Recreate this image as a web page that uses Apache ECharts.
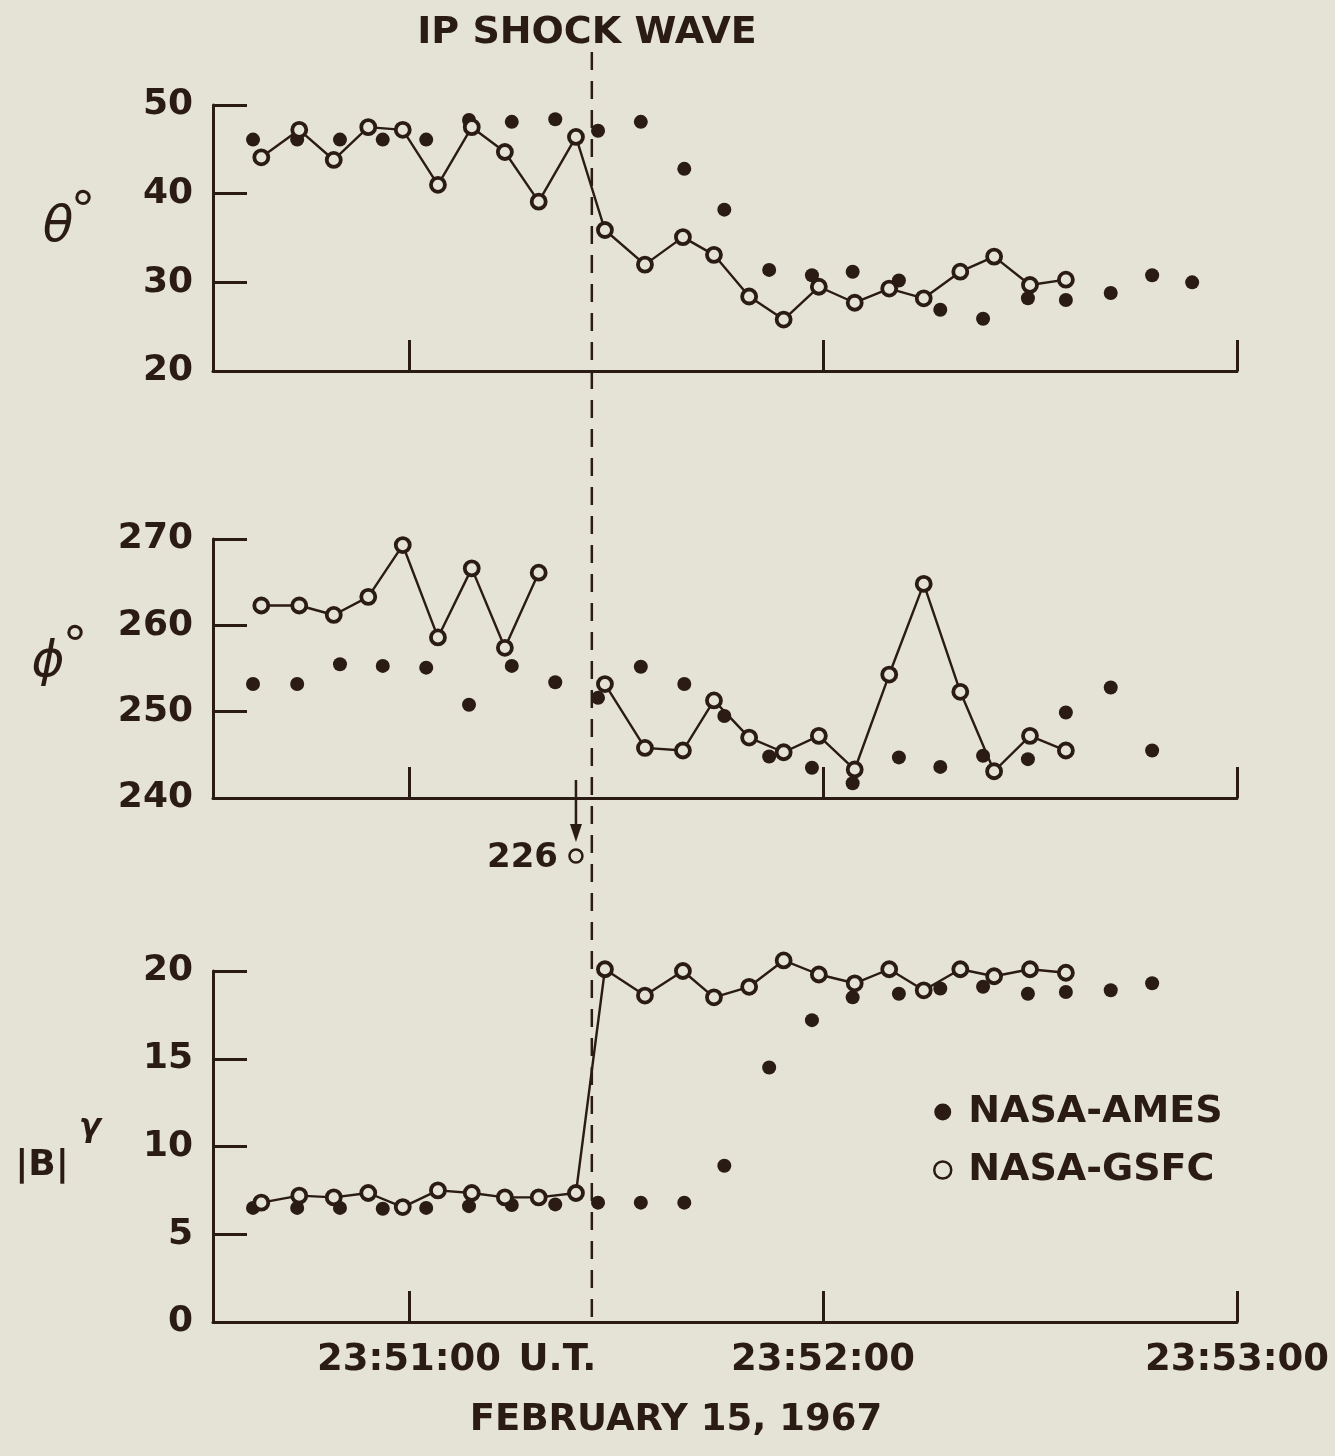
<!DOCTYPE html>
<html>
<head>
<meta charset="utf-8">
<script src="https://cdn.jsdelivr.net/npm/echarts@6/dist/echarts.min.js"></script>
<style>
html,body{margin:0;padding:0;background:#e5e3d5;}
#chart{width:1335px;height:1456px;}
</style>
</head>
<body>
<div id="chart"></div>
<script>
// ---- Data (time in seconds relative to 23:51:00 U.T.) ----
const timeGsfc = [-21.4,-15.9,-10.9,-5.9,-0.9,4.2,9.1,13.9,18.8,24.2,28.4,34.2,39.7,44.2,49.3,54.3,59.4,64.6,69.6,74.6,79.9,84.8,90.0,95.2];
const timeAmes = [-22.6,-16.2,-10.0,-3.8,2.5,8.7,14.9,21.2,27.4,33.6,39.9,45.7,52.2,58.4,64.3,71.0,77.0,83.2,89.7,95.2,101.7,107.7,113.5];

const thetaAmes = [46.1,46.1,46.1,46.1,46.1,48.3,48.1,48.4,47.1,48.1,42.8,38.2,31.4,30.8,31.2,30.2,26.9,25.9,28.2,28.0,28.8,30.8,30.0];
const thetaGsfc = [44.1,47.2,43.8,47.5,47.2,41.0,47.5,44.7,39.1,46.4,35.9,32.0,35.1,33.1,28.4,25.8,29.5,27.7,29.3,28.2,31.2,32.9,29.7,30.3];

const phiAmes = [253.2,253.2,255.5,255.3,255.1,250.8,255.3,253.4,251.6,255.2,253.2,249.5,244.8,243.5,241.7,244.7,243.6,244.9,244.5,249.9,252.8,245.5];
const phiGsfc = [262.3,262.3,261.2,263.3,269.3,258.6,266.6,257.4,266.1,226,253.2,245.8,245.5,251.3,247.0,245.3,247.2,243.3,254.3,264.8,252.3,243.1,247.2,245.5];

const bAmes = [6.5,6.5,6.5,6.45,6.5,6.6,6.67,6.7,6.8,6.8,6.8,8.9,14.5,17.2,18.5,18.7,19.0,19.1,18.7,18.8,18.9,19.3];
const bGsfc = [6.8,7.2,7.1,7.35,6.55,7.5,7.35,7.1,7.1,7.35,20.1,18.6,20.0,18.5,19.1,20.6,19.8,19.3,20.1,18.9,20.1,19.7,20.1,19.9];

const xTickValues = [0, 60, 120];
const xTickLabels = {0: '23:51:00', 60: '23:52:00', 120: '23:53:00'};
const shockTime = 26.5;
const panelNames = ['θ', 'ϕ', '|B|'];
const panelRanges = [[20, 50, 10], [240, 270, 10], [0, 20, 5]];
const seriesNames = ['NASA-AMES', 'NASA-GSFC'];
const titleText = 'IP SHOCK WAVE';
const dateText = 'FEBRUARY 15, 1967';

// ---- Styling ----
const BG = '#e5e3d5';
const INK = '#2a1b15';
const FONT = 'DejaVu Sans';

function zip(t, v, lo) {
  return v.map((y, i) => [t[i], (lo !== undefined && y < lo) ? null : y]);
}

const grids = [
  {left: 213, right: 98, top: 105, height: 266},
  {left: 213, right: 98, top: 539, height: 259},
  {left: 213, right: 98, top: 971, height: 351}
];

const xAxes = grids.map((g, i) => ({
  type: 'value', gridIndex: i, min: -28.4, max: 120,
  axisLine: {show: true, onZero: false, lineStyle: {color: INK, width: 3}},
  axisTick: {show: true, inside: true, length: 31, customValues: xTickValues, lineStyle: {color: INK, width: 3}},
  splitLine: {show: false},
  axisLabel: i === 2 ? {
    show: true, customValues: xTickValues, margin: 20,
    formatter: v => v === 0 ? '{p|}{a|' + xTickLabels[v] + '}{u| U.T.}' : '{a|' + xTickLabels[v] + '}',
    rich: {
      a: {fontFamily: FONT, fontSize: 37, fontWeight: 'bold', color: INK},
      u: {fontFamily: FONT, fontSize: 37, fontWeight: 'bold', color: INK, width: 100, align: 'left'},
      p: {width: 100}
    }
  } : {show: false}
}));

const yAxes = panelRanges.map((r, i) => ({
  type: 'value', gridIndex: i, min: r[0], max: r[1], interval: r[2],
  axisLine: {show: true, onZero: false, lineStyle: {color: INK, width: 3}},
  axisTick: {show: true, inside: true, length: 34, lineStyle: {color: INK, width: 3}},
  splitLine: {show: false},
  axisLabel: {fontFamily: FONT, fontSize: 36, fontWeight: 'bold', color: INK, margin: 20}
}));

const amesData = [zip(timeAmes, thetaAmes), zip(timeAmes, phiAmes), zip(timeAmes, bAmes)];
const gsfcData = [zip(timeGsfc, thetaGsfc), zip(timeGsfc, phiGsfc, 240), zip(timeGsfc, bGsfc)];

const series = [];
for (let i = 0; i < 3; i++) {
  series.push({
    name: seriesNames[0], type: 'scatter', xAxisIndex: i, yAxisIndex: i,
    data: amesData[i], symbol: 'circle', symbolSize: 14, clip: false,
    itemStyle: {color: INK, opacity: 1}, z: 2, silent: true
  });
  series.push({
    name: seriesNames[1], type: 'line', xAxisIndex: i, yAxisIndex: i,
    data: gsfcData[i], symbol: 'circle', symbolSize: 14, showAllSymbol: true,
    connectNulls: false, clip: false,
    lineStyle: {color: INK, width: 2.4},
    itemStyle: {color: BG, borderColor: INK, borderWidth: 3.8, opacity: 1},
    z: 3, silent: true, animation: false
  });
}

const chart = echarts.init(document.getElementById('chart'), null, {renderer: 'canvas'});
chart.setOption({
  animation: false,
  backgroundColor: BG,
  grid: grids.map(g => Object.assign({containLabel: false, outerBoundsMode: 'none'}, g)),
  xAxis: xAxes,
  yAxis: yAxes,
  legend: {
    orient: 'vertical', left: 928, top: 1088, itemGap: 20,
    itemWidth: 17, itemHeight: 17,
    textStyle: {fontFamily: FONT, fontSize: 38, fontWeight: 'bold', color: INK, padding: [0, 0, 0, 12]},
    selectedMode: false,
    data: [
      {name: seriesNames[0], icon: 'circle', itemStyle: {color: INK, borderWidth: 0}},
      {name: seriesNames[1], icon: 'circle', itemStyle: {color: BG, borderColor: INK, borderWidth: 2.5}}
    ]
  },
  series: series
});

// ---- Annotations ----
const shockX = chart.convertToPixel({gridIndex: 0}, [shockTime, 50])[0];
const g2Bottom = grids[1].top + grids[1].height;
const g3Bottom = grids[2].top + grids[2].height;
const offIdx = phiGsfc.findIndex(v => v < panelRanges[1][0]);
const offX = chart.convertToPixel({gridIndex: 1}, [timeGsfc[offIdx], 250])[0];

const graphics = [
  {type: 'line', shape: {x1: shockX, y1: 52, x2: shockX, y2: g3Bottom + 6},
   style: {stroke: INK, lineWidth: 2.5, lineDash: [18, 11]}, z: 1},
  {type: 'text', x: 587, y: 33, style: {text: titleText, font: 'bold 38px ' + FONT, fill: INK, align: 'center', verticalAlign: 'middle'}},
  {type: 'text', x: 676, y: 1420, style: {text: dateText, font: 'bold 37px ' + FONT, fill: INK, align: 'center', verticalAlign: 'middle'}},
  // panel names
  {type: 'text', x: 58, y: 228, style: {text: panelNames[0], font: 'italic 50px ' + FONT, fill: INK, align: 'center', verticalAlign: 'middle'}},
  {type: 'text', x: 83, y: 214, style: {text: '°', font: '50px ' + FONT, fill: INK, align: 'center', verticalAlign: 'middle'}},
  {type: 'text', x: 48, y: 663, style: {text: panelNames[1], font: 'italic 50px ' + FONT, fill: INK, align: 'center', verticalAlign: 'middle'}},
  {type: 'text', x: 75, y: 649, style: {text: '°', font: '50px ' + FONT, fill: INK, align: 'center', verticalAlign: 'middle'}},
  {type: 'text', x: 42, y: 1166, style: {text: panelNames[2], font: 'bold 36px ' + FONT, fill: INK, align: 'center', verticalAlign: 'middle'}},
  {type: 'text', x: 90, y: 1128, style: {text: 'γ', font: 'italic bold 32px ' + FONT, fill: INK, align: 'center', verticalAlign: 'middle'}},
  // off-scale phi value
  {type: 'line', shape: {x1: offX, y1: g2Bottom - 18, x2: offX, y2: g2Bottom + 30}, style: {stroke: INK, lineWidth: 2.5}},
  {type: 'polygon', shape: {points: [[offX - 6, g2Bottom + 26], [offX + 6, g2Bottom + 26], [offX, g2Bottom + 44]]}, style: {fill: INK}},
  {type: 'circle', shape: {cx: offX, cy: g2Bottom + 58, r: 6.5}, style: {fill: BG, stroke: INK, lineWidth: 2.5}},
  {type: 'text', x: offX - 18, y: g2Bottom + 60, style: {text: String(phiGsfc[offIdx]), font: 'bold 34px ' + FONT, fill: INK, align: 'right', verticalAlign: 'middle'}}
];
chart.setOption({graphic: graphics});
</script>
</body>
</html>
